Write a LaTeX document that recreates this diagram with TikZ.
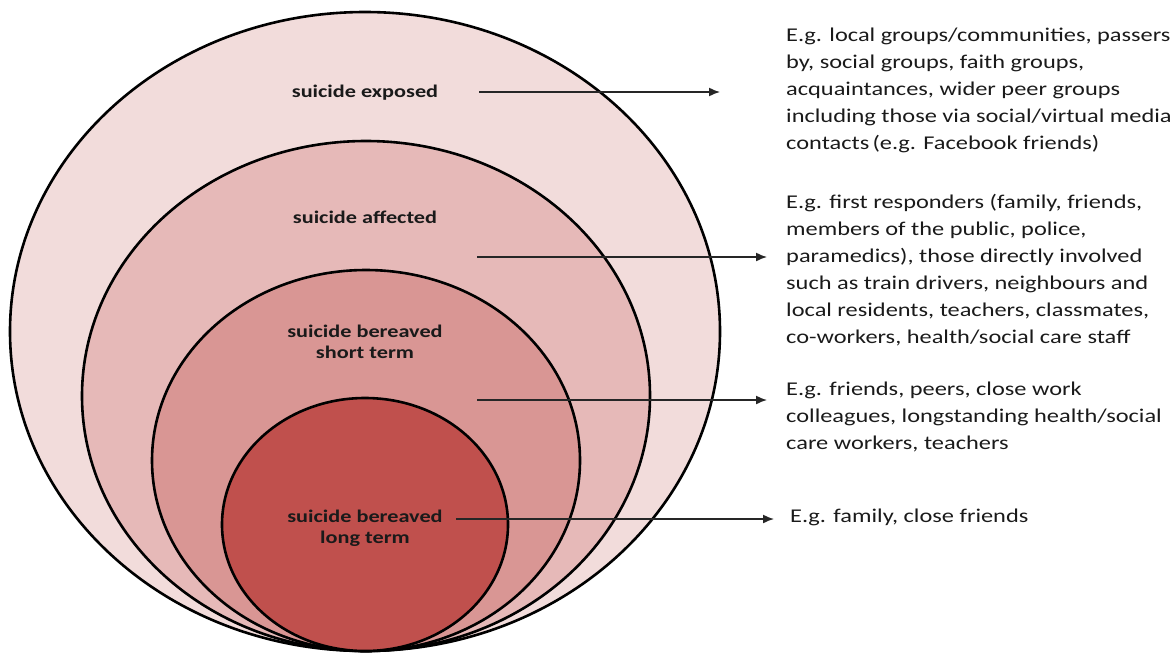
\documentclass[tikz,border=0pt]{standalone}
\usepackage{fontspec}
\setmainfont[FakeStretch=1.25]{Carlito}
\usetikzlibrary{shapes.geometric,arrows.meta}
\definecolor{cA}{HTML}{F2DCDB}
\definecolor{cB}{HTML}{E6B9B8}
\definecolor{cC}{HTML}{D99694}
\definecolor{cD}{HTML}{C0504D}
\definecolor{ink}{HTML}{1A1A1A}
\tikzset{
  ell/.style={ellipse, draw=black, line width=2.6pt, inner sep=0pt, outer sep=0pt},
  lab/.style={font=\bfseries\fontsize{17.8}{21}\selectfont, text=ink, align=center, inner sep=0pt, anchor=base},
  desc/.style={font=\fontsize{19.5}{27}\selectfont, text=ink, align=left, inner sep=0pt, anchor=base west},
  arr/.style={draw=black!85, line width=1.5pt, -{Latex[length=11pt,width=9pt]}}
}
\begin{document}
\begin{tikzpicture}[x=1pt,y=-1pt]
\useasboundingbox (0,0) rectangle (1174,654);
\node[ell, fill=cA, minimum width=710pt, minimum height=639pt] (exp) at (365,331.5) {};
\node[ell, fill=cB, minimum width=568pt, minimum height=510pt] (aff) at (366,396) {};
\node[ell, fill=cC, minimum width=428pt, minimum height=381pt] (bst) at (366,460.5) {};
\node[ell, fill=cD, minimum width=286pt, minimum height=253pt] (blt) at (365,524.5) {};

\node[lab] (lexp) at (365,97.7) {suicide exposed};
\node[lab] (laff) at (365,223) {suicide affected};
\node[lab] (lbst) at (365,358) {suicide bereaved\\short term};
\node[lab] (lblt) at (365,543) {suicide bereaved\\long term};

\node[desc] (texp) at (786,149) {E.g. local groups/communities, passers\\by, social groups, faith groups,\\acquaintances, wider peer groups\\including those via social/virtual media\\contacts\,(e.g. Facebook friends)};
\node[desc] (taff) at (786,343) {E.g. first responders (family, friends,\\members of the public, police,\\paramedics), those directly involved\\such as train drivers, neighbours and\\local residents, teachers, classmates,\\co-workers, health/social care staff};
\node[desc] (tbst) at (786,449) {E.g. friends, peers, close work\\colleagues, longstanding health/social\\care workers, teachers};
\node[desc] (tblt) at (790,522) {E.g. family, close friends};

\coordinate (s1) at (479,92);  \coordinate (e1) at (720,92);
\coordinate (s2) at (477,257); \coordinate (e2) at (767,257);
\coordinate (s3) at (477,400); \coordinate (e3) at (767,400);
\coordinate (s4) at (456,519); \coordinate (e4) at (774,519);
\draw[arr] (s1) -- (e1);
\draw[arr] (s2) -- (e2);
\draw[arr] (s3) -- (e3);
\draw[arr] (s4) -- (e4);
\end{tikzpicture}
\end{document}
